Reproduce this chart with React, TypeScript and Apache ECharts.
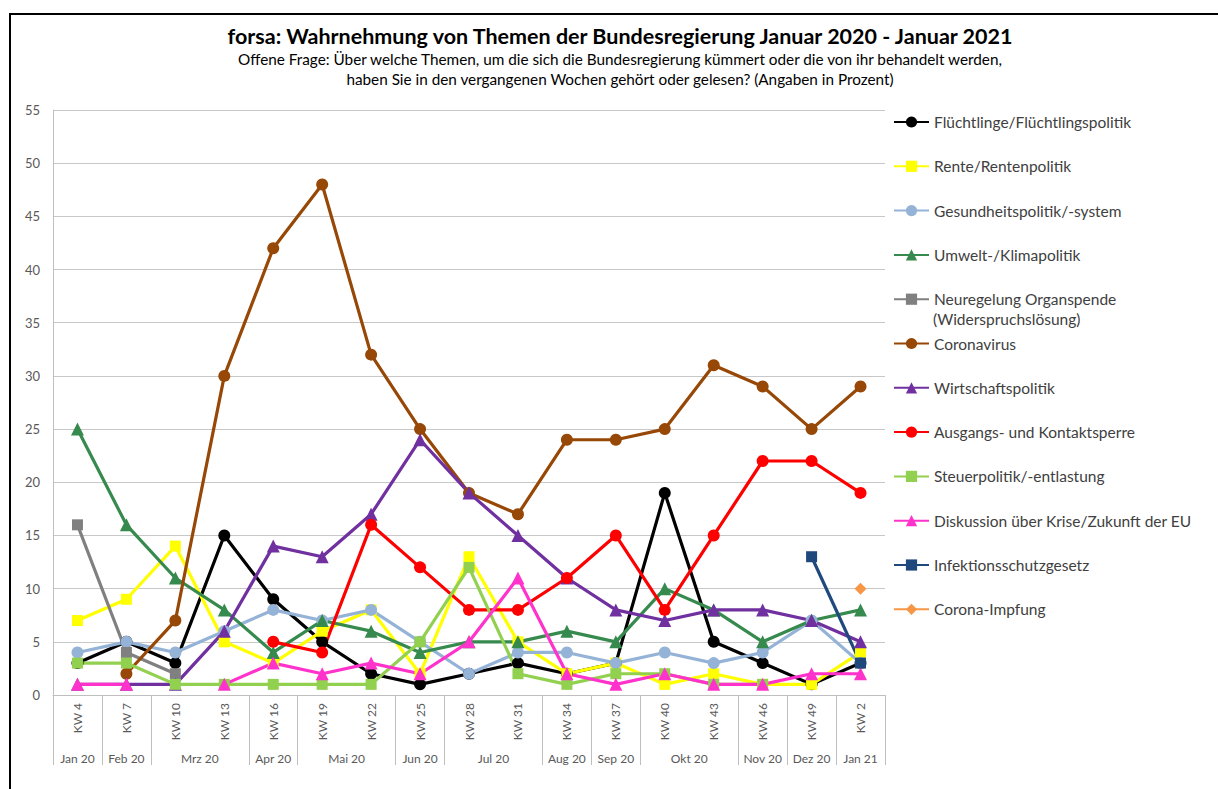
import React, { useEffect, useRef } from "react";
import * as echarts from "echarts";

const categories = ["KW 4", "KW 7", "KW 10", "KW 13", "KW 16", "KW 19", "KW 22", "KW 25", "KW 28", "KW 31", "KW 34", "KW 37", "KW 40", "KW 43", "KW 46", "KW 49", "KW 2"];
const monthLabels = ["Jan 20", "Feb 20", "Mrz 20", "Apr 20", "Mai 20", "Jun 20", "Jul 20", "Aug 20", "Sep 20", "Okt 20", "Nov 20", "Dez 20", "Jan 21"];
const monthStarts = [0, 1, 2, 4, 5, 7, 8, 10, 11, 12, 14, 15, 16];
const yTicks = [0, 5, 10, 15, 20, 25, 30, 35, 40, 45, 50, 55];

const fluechtlinge = [3, 5, 3, 15, 9, 5, 2, 1, 2, 3, 2, 3, 19, 5, 3, 1, 3];
const rente = [7, 9, 14, 5, 3, 6, 8, 2, 13, 5, 2, 3, 1, 2, 1, 1, 4];
const gesundheit = [4, 5, 4, 6, 8, 7, 8, 5, 2, 4, 4, 3, 4, 3, 4, 7, 3];
const umwelt = [25, 16, 11, 8, 4, 7, 6, 4, 5, 5, 6, 5, 10, 8, 5, 7, 8];
const organspende = [16, 4, 2, null, null, null, null, null, null, null, null, null, null, null, null, null, null];
const coronavirus = [null, 2, 7, 30, 42, 48, 32, 25, 19, 17, 24, 24, 25, 31, 29, 25, 29];
const wirtschaft = [1, 1, 1, 6, 14, 13, 17, 24, 19, 15, 11, 8, 7, 8, 8, 7, 5];
const ausgang = [null, null, null, null, 5, 4, 16, 12, 8, 8, 11, 15, 8, 15, 22, 22, 19];
const steuer = [3, 3, 1, 1, 1, 1, 1, 5, 12, 2, 1, 2, 2, 1, 1, null, null];
const eu = [1, 1, null, 1, 3, 2, 3, 2, 5, 11, 2, 1, 2, 1, 1, 2, 2];
const infektion = [null, null, null, null, null, null, null, null, null, null, null, null, null, null, null, 13, 3];
const impfung = [null, null, null, null, null, null, null, null, null, null, null, null, null, null, null, null, 10];

const seriesDefs = [
  { name: "Flüchtlinge/Flüchtlingspolitik", data: fluechtlinge, color: "#000000", symbol: "circle", size: 12 },
  { name: "Rente/Rentenpolitik", data: rente, color: "#ffff00", symbol: "rect", size: 11 },
  { name: "Gesundheitspolitik/-system", data: gesundheit, color: "#95b3d7", symbol: "circle", size: 12 },
  { name: "Umwelt-/Klimapolitik", data: umwelt, color: "#378a4e", symbol: "triangle", size: 13 },
  { name: "Neuregelung Organspende", data: organspende, color: "#808080", symbol: "rect", size: 11 },
  { name: "Coronavirus", data: coronavirus, color: "#974706", symbol: "circle", size: 12 },
  { name: "Wirtschaftspolitik", data: wirtschaft, color: "#7030a0", symbol: "triangle", size: 13 },
  { name: "Ausgangs- und Kontaktsperre", data: ausgang, color: "#ff0000", symbol: "circle", size: 12 },
  { name: "Steuerpolitik/-entlastung", data: steuer, color: "#92d050", symbol: "rect", size: 11 },
  { name: "Diskussion über Krise/Zukunft der EU", data: eu, color: "#ff33cc", symbol: "triangle", size: 13 },
  { name: "Infektionsschutzgesetz", data: infektion, color: "#1f497d", symbol: "rect", size: 11 },
  { name: "Corona-Impfung", data: impfung, color: "#f79646", symbol: "diamond", size: 12 },
];

const FONT = "Lato, 'Open Sans', sans-serif";

export default function App() {
  const ref = useRef<HTMLDivElement>(null);
  useEffect(() => {
    if (!ref.current) return;
    const chart = echarts.init(ref.current, undefined, { renderer: "svg" });
    const option: any = {
      animation: false,
      backgroundColor: "#ffffff",
      textStyle: { fontFamily: FONT },
      title: {
        text: "forsa: Wahrnehmung von Themen der Bundesregierung Januar 2020 - Januar 2021",
        subtext: "Offene Frage: Über welche Themen, um die sich die Bundesregierung kümmert oder die von ihr behandelt werden,\nhaben Sie in den vergangenen Wochen gehört oder gelesen? (Angaben in Prozent)",
        left: 615,
        top: 20,
        textAlign: "center",
        itemGap: 2,
        textStyle: { fontFamily: FONT, fontSize: 21.5, fontWeight: "bold", color: "#000000" },
        subtextStyle: { fontFamily: FONT, fontSize: 15.3, color: "#000000", lineHeight: 20 },
      },
      legend: {
        orient: "vertical",
        left: 888,
        top: 107,
        itemGap: 24.3,
        itemWidth: 35,
        itemHeight: 14,
        textStyle: { fontFamily: FONT, fontSize: 15.5, color: "#404040", lineHeight: 20 },
        data: seriesDefs.map((s) => s.name),
      },
      grid: { left: 53, right: 333, top: 110, bottom: 94, containLabel: false },
      xAxis: {
        type: "category",
        data: categories,
        boundaryGap: true,
        axisLine: { show: true, lineStyle: { color: "#bfbfbf", width: 1 } },
        axisTick: {
          show: true,
          length: 70,
          interval: (index: number) => monthStarts.includes(index),
          lineStyle: { color: "#bfbfbf", width: 1 },
        },
        axisLabel: { interval: 0, rotate: 90, margin: 8, fontSize: 12, color: "#595959", fontFamily: FONT },
        splitLine: { show: false },
      },
      yAxis: {
        type: "value",
        min: yTicks[0],
        max: yTicks[yTicks.length - 1],
        interval: 5,
        axisLine: { show: true, lineStyle: { color: "#bfbfbf" } },
        axisTick: { show: false },
        axisLabel: { fontSize: 13, color: "#595959", margin: 13, fontFamily: FONT },
        splitLine: { lineStyle: { color: "#c8c8c8", width: 1 } },
      },
      series: seriesDefs.map((s) => ({
        name: s.name,
        type: "line",
        data: s.data,
        connectNulls: false,
        symbol: s.symbol,
        symbolSize: s.size,
        showSymbol: true,
        showAllSymbol: true,
        lineStyle: { color: s.color, width: 3.2 },
        itemStyle: { color: s.color, borderWidth: 0 },
        emphasis: { disabled: true },
      })),
    };
    chart.setOption(option);

    const zeroY = chart.convertToPixel({ yAxisIndex: 0 }, 0) as number;
    const monthGraphics = monthLabels.map((label, i) => {
      const start = monthStarts[i];
      const end = i + 1 < monthStarts.length ? monthStarts[i + 1] - 1 : categories.length - 1;
      const x0 = chart.convertToPixel({ xAxisIndex: 0 }, start) as number;
      const x1 = chart.convertToPixel({ xAxisIndex: 0 }, end) as number;
      return {
        type: "text",
        x: (x0 + x1) / 2,
        y: zeroY + 63,
        style: {
          text: label,
          fontFamily: FONT,
          fontSize: 12,
          fill: "#595959",
          align: "center",
          verticalAlign: "middle",
        },
      };
    });
    chart.setOption({
      graphic: [
        {
          type: "rect",
          shape: { x: 10, y: 14, width: 1230, height: 800 },
          style: { fill: "none", stroke: "#000000", lineWidth: 2 },
          silent: true,
        },
        {
          type: "text",
          x: 933,
          y: 319,
          style: {
            text: "(Widerspruchslösung)",
            fontFamily: FONT,
            fontSize: 15.5,
            fill: "#404040",
            align: "left",
            verticalAlign: "middle",
          },
        },
        ...monthGraphics,
      ],
    });

    return () => chart.dispose();
  }, []);
  return (
    <div style={{ position: "fixed", left: 0, top: 0, width: 1218, height: 789, background: "#fff" }}>
      <div ref={ref} style={{ width: 1218, height: 789 }} />
    </div>
  );
}
